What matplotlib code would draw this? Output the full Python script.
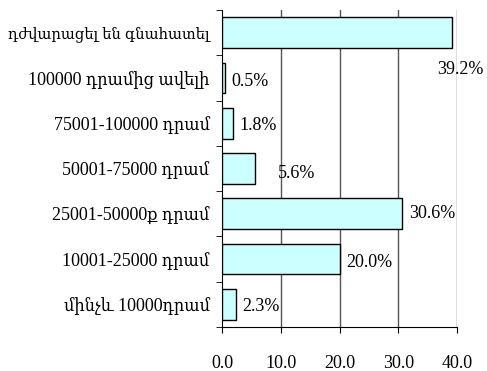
import numpy as np
import matplotlib.pyplot as plt

# categories from top to bottom, as they appear on the chart
categories = ["դժվարացել են գնահատել",
              "100000 դրամից ավելի",
              "75001-100000 դրամ",
              "50001-75000 դրամ",
              "25001-50000ք դրամ",
              "10001-25000 դրամ",
              "մինչև 10000դրամ"]
values = [39.2, 0.5, 1.8, 5.6, 30.6, 20.0, 2.3]
xticks = [0, 10, 20, 30, 40]

# label offsets in pixels (the original labels are placed a bit oddly)
label_offsets = [(-15, -37), (6, -4), (7, -2), (23, -5), (7, 0), (7, -3), (7, -2)]

plt.rcParams['font.family'] = ['Liberation Serif', 'DejaVu Serif', 'DejaVu Sans']
plt.rcParams['font.size'] = 13

fig = plt.figure(figsize=(4.87, 3.71), dpi=100)
ax = fig.add_axes([222 / 487, 1 - 327 / 371, 235 / 487, 317 / 371])

y = np.arange(len(categories))[::-1]
ax.barh(y, values, height=0.68, color="#CCFFFF", edgecolor="black", linewidth=1, zorder=3)

# vertical grid lines
for xv in xticks[1:]:
    ax.axvline(xv, color="#555555", linewidth=1, zorder=1)

for yi, v, off in zip(y, values, label_offsets):
    ax.annotate(f"{v:.1f}%", (v, yi), xytext=(off[0] * 0.72, off[1] * 0.72),
                textcoords="offset points", va="center", ha="left", zorder=4)

ax.set_xlim(0, 40)
ax.set_ylim(-0.5, len(categories) - 0.5)
ax.set_xticks(xticks)
ax.set_xticklabels([f"{t:.1f}" for t in xticks])

# category names at bar centres, tick marks between categories
ax.set_yticks(y)
ax.set_yticklabels(categories, fontstretch="condensed")
ax.get_yticklabels()[0].set_fontsize(11.8)
ax.tick_params(axis="y", which="major", length=0, pad=9)
ax.set_yticks(np.arange(-0.5, len(categories), 1), minor=True)
ax.tick_params(axis="y", which="minor", length=4, direction="out")
ax.tick_params(axis="x", length=4, direction="out", pad=16)

ax.spines["top"].set_visible(False)
ax.spines["right"].set_visible(False)

fig.savefig("out.png", dpi=100)
